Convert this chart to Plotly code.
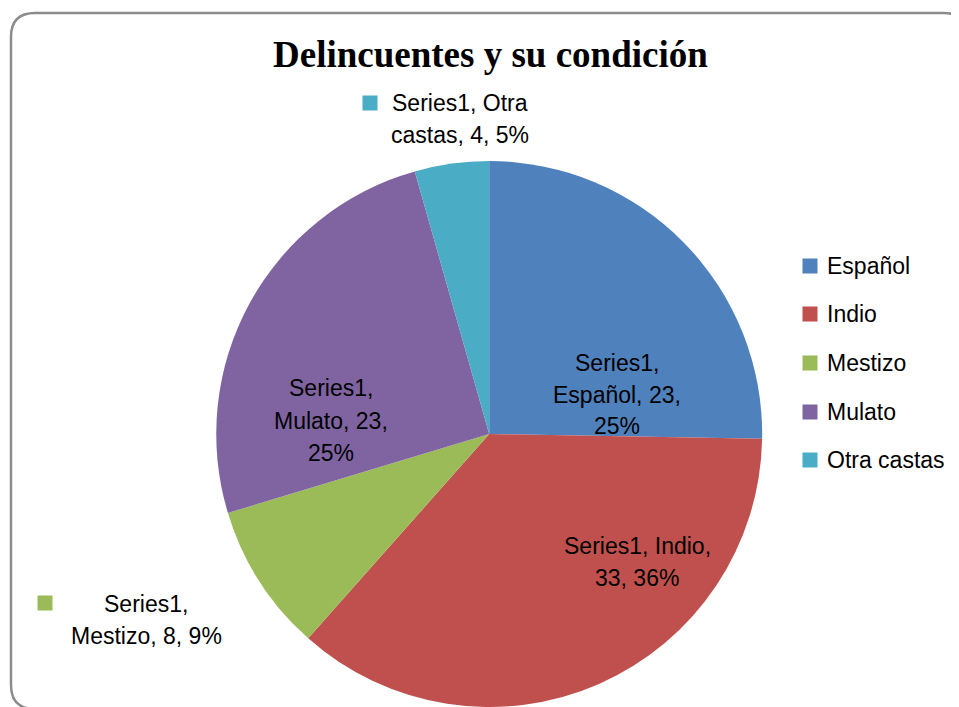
import plotly.graph_objects as go

# data
categories = ["Español", "Indio", "Mestizo", "Mulato", "Otra castas"]
values = [23, 33, 8, 23, 4]
percents = [25, 36, 9, 25, 5]
colors = ["#4F81BD", "#C0504D", "#9BBB59", "#8064A2", "#4BACC6"]
series_name = "Series1"
title = "Delincuentes y su condición"

# the page body has an 8px margin, so the figure is a bit smaller than the window
OFF = 8
W, H = 959 - OFF, 707 - OFF
LABEL_FONT = "Liberation Sans"
LABEL_SIZE = 23


def px(x, y):
    # window pixel -> paper coords
    return (x - OFF) / W, 1 - (y - OFF) / H


fig = go.Figure(go.Pie(
    labels=categories, values=values, sort=False, direction="clockwise",
    rotation=0, marker=dict(colors=colors, line=dict(width=0)),
    textinfo="none", hoverinfo="label+value+percent", showlegend=False,
    domain=dict(x=[0.215, 0.797], y=[0, 0.781]),
))

annotations = []


def add_text(lines, cx, ys, size=LABEL_SIZE):
    for line, y in zip(lines, ys):
        x0, y0 = px(cx, y)
        annotations.append(dict(x=x0, y=y0, xref="paper", yref="paper", text=line,
                                showarrow=False, xanchor="center", yanchor="middle",
                                font=dict(family=LABEL_FONT, size=size, color="black")))


def add_key(color, cx, cy):
    x0, y0 = px(cx, cy)
    annotations.append(dict(x=x0, y=y0, xref="paper", yref="paper", text=" ",
                            showarrow=False, width=14, height=14, bgcolor=color,
                            borderpad=0, xanchor="center", yanchor="middle"))


# title
tx, ty = px(491, 55)
annotations.append(dict(x=tx, y=ty, xref="paper", yref="paper", text=f"<b>{title}</b>",
                        showarrow=False, xanchor="center", yanchor="middle",
                        font=dict(family="Liberation Serif", size=37, color="black")))

# data labels (line breaks as in the original)
add_text([f"{series_name},", f"{categories[0]}, {values[0]},", f"{percents[0]}%"], 617, [363, 395, 426])
add_text([f"{series_name}, {categories[1]},", f"{values[1]}, {percents[1]}%"], 637, [546, 578])
add_text([f"{series_name},", f"{categories[3]}, {values[3]},", f"{percents[3]}%"], 331, [388, 421, 453])
add_key(colors[4], 370, 103)
add_text([f"{series_name}, Otra", f"castas, {values[4]}, {percents[4]}%"], 460, [103, 135])
add_key(colors[2], 45, 603)
add_text([f"{series_name},", f"{categories[2]}, {values[2]}, {percents[2]}%"], 146, [604, 636])

# legend
for i, (c, col) in enumerate(zip(categories, colors)):
    y = 266 + i * 48.5
    add_key(col, 810, y)
    lx, ly = px(825, y)
    annotations.append(dict(x=lx, y=ly, xref="paper", yref="paper", text=c,
                            showarrow=False, xanchor="left", yanchor="middle",
                            font=dict(family=LABEL_FONT, size=LABEL_SIZE, color="black")))

# rounded frame
L, T, R, B, r = 11, 13, 968, 709, 24


def p(x, y):
    a, b = px(x, y)
    return f"{a:.5f},{b:.5f}"


frame = (f"M {p(L + r, T)} L {p(R - r, T)} Q {p(R, T)} {p(R, T + r)} "
         f"L {p(R, B - r)} Q {p(R, B)} {p(R - r, B)} L {p(L + r, B)} "
         f"Q {p(L, B)} {p(L, B - r)} L {p(L, T + r)} Q {p(L, T)} {p(L + r, T)} Z")

fig.update_layout(
    width=W, height=H, margin=dict(l=0, r=0, t=0, b=0),
    paper_bgcolor="white", plot_bgcolor="white",
    annotations=annotations,
    shapes=[dict(type="path", xref="paper", yref="paper", path=frame,
                 line=dict(color="#8C8C8C", width=2.5), layer="below")],
)

fig.write_html("out.html")
